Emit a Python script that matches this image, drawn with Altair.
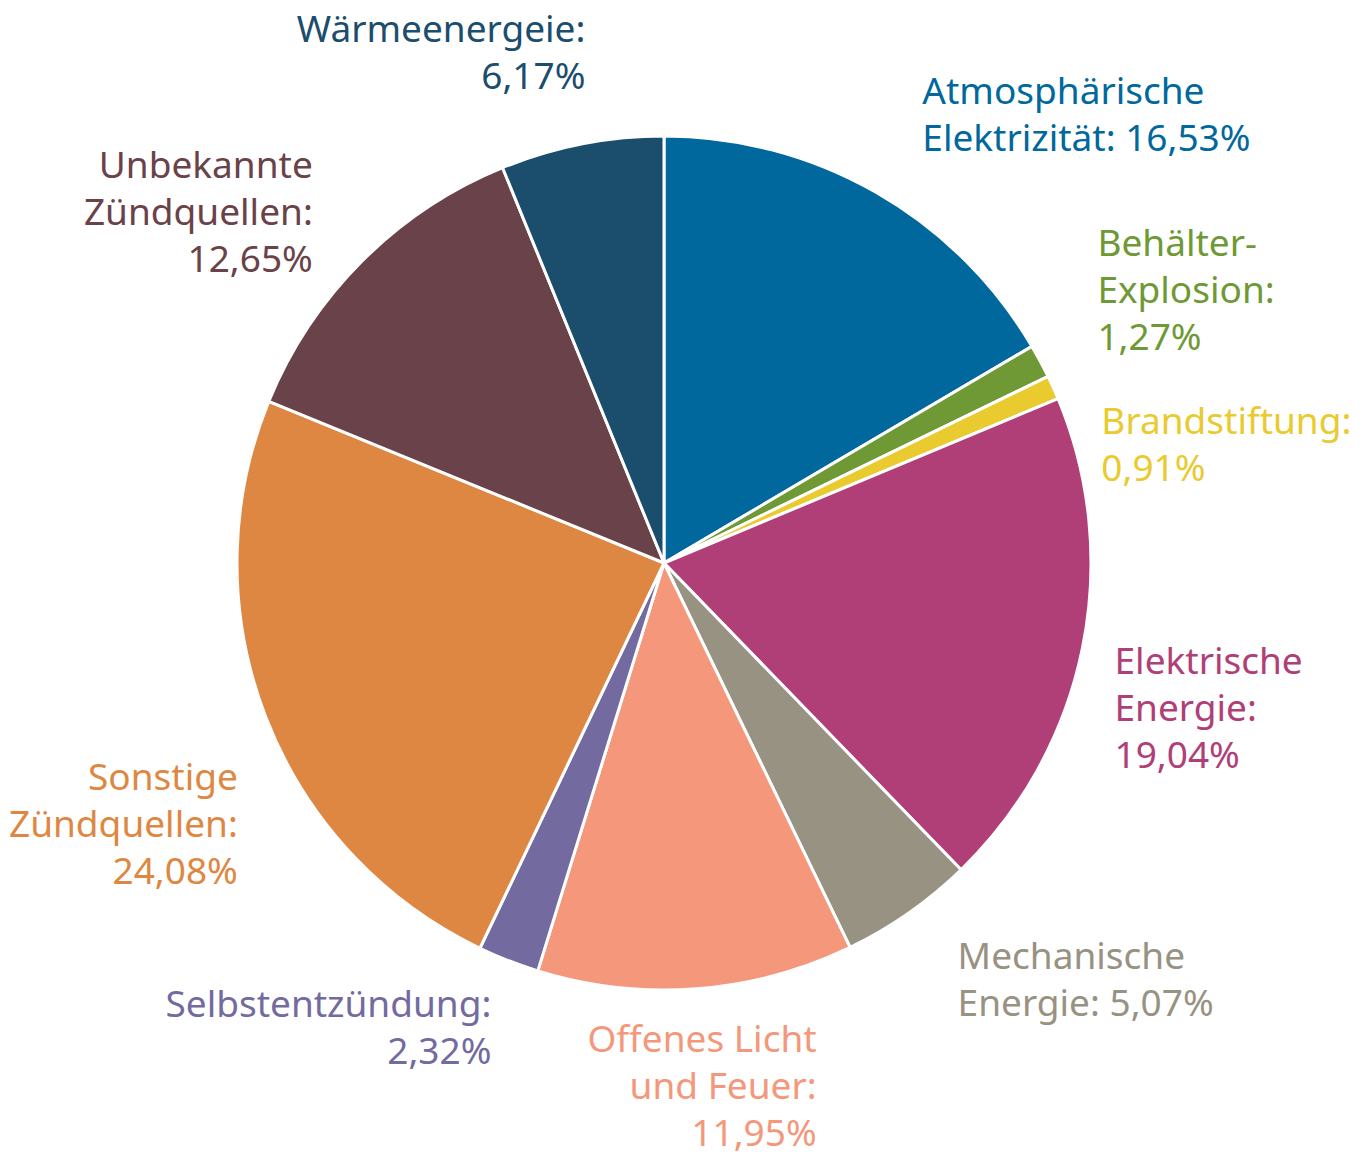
import altair as alt
import pandas as pd

categories = ["Atmosphärische Elektrizität", "Behälter-Explosion", "Brandstiftung",
              "Elektrische Energie", "Mechanische Energie", "Offenes Licht und Feuer",
              "Selbstentzündung", "Sonstige Zündquellen", "Unbekannte Zündquellen",
              "Wärmeenergeie"]
values = [16.53, 1.27, 0.91, 19.04, 5.07, 11.95, 2.32, 24.08, 12.65, 6.17]
label_lines = [
    ["Atmosphärische", "Elektrizität: 16,53%"],
    ["Behälter-", "Explosion:", "1,27%"],
    ["Brandstiftung:", "0,91%"],
    ["Elektrische", "Energie:", "19,04%"],
    ["Mechanische", "Energie: 5,07%"],
    ["Offenes Licht", "und Feuer:", "11,95%"],
    ["Selbstentzündung:", "2,32%"],
    ["Sonstige", "Zündquellen:", "24,08%"],
    ["Unbekannte", "Zündquellen:", "12,65%"],
    ["Wärmeenergeie:", "6,17%"],
]
colors = ["#00689D", "#6E9935", "#E9CA2F", "#B03E77", "#989283",
          "#F4977A", "#736B9F", "#DE8742", "#6A4249", "#1B4D6D"]

# label styling: (align, dx, dy) for block center
label_style = [
    ("left", 30, -47),
    ("left", 28, -54),
    ("left", 18, 73),
    ("left", 0, 54),
    ("left", 30, 42),
    ("right", 118, 66),
    ("right", -5, 38),
    ("right", 3, 97),
    ("right", -26, -24),
    ("right", 10, -57),
]
LINE_H = 47

total = sum(values)
starts, ends = [], []
acc = 0.0
for v in values:
    starts.append(acc)
    acc += v
    ends.append(acc)

df = pd.DataFrame({
    "cat": categories,
    "value": values,
    "start": starts,
    "end": ends,
    "mid": [(s + e) / 2 for s, e in zip(starts, ends)],
    "label": ["\n".join(l) for l in label_lines],
})

theta_scale = alt.Scale(domain=[0, total], range=[0, 6.283185307179586])
color_scale = alt.Scale(domain=categories, range=colors)

arcs = alt.Chart(df).mark_arc(outerRadius=427, stroke="white", strokeWidth=3).encode(
    theta=alt.Theta("start:Q", scale=theta_scale),
    theta2="end:Q",
    color=alt.Color("cat:N", scale=color_scale, legend=None),
    order=alt.Order("start:Q"),
)

layers = [arcs]
for cat, lines, (align, dx, dy) in zip(categories, label_lines, label_style):
    first_dy = dy - (len(lines) - 1) * LINE_H / 2
    t = alt.Chart(df).transform_filter(alt.datum.cat == cat).mark_text(
        align=align, baseline="middle", dx=dx, dy=first_dy,
        font="Noto Sans", fontSize=37, lineBreak="\n", lineHeight=LINE_H,
    ).encode(
        theta=alt.Theta("mid:Q", scale=theta_scale),
        radius=alt.value(460),
        text="label:N",
        color=alt.Color("cat:N", scale=color_scale, legend=None),
    )
    layers.append(t)

chart = alt.layer(*layers).properties(
    width=1328, height=1126,
    autosize=alt.AutoSizeParams(type="none"),
    padding={"left": 0, "top": 0, "right": 42, "bottom": 30},
).configure_view(stroke=None).configure(background="white")

chart.save("out.html", embed_options={"renderer": "svg", "actions": False})
